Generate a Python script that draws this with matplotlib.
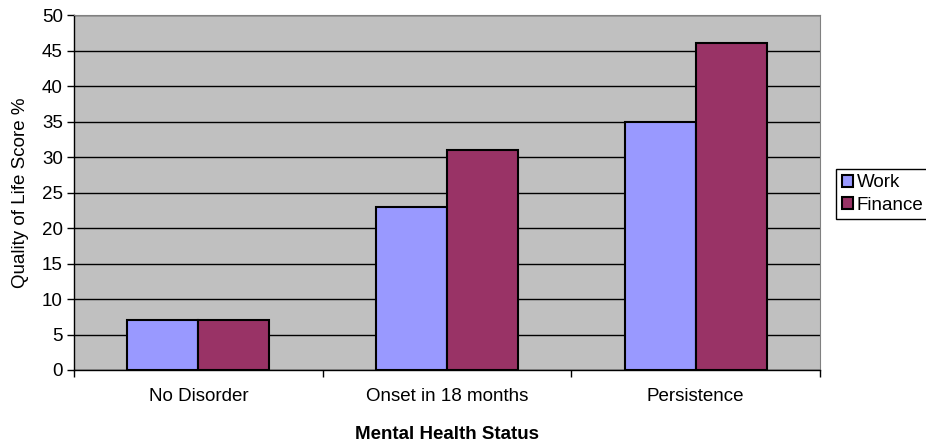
import matplotlib.pyplot as plt
import numpy as np

# Datos
categorias = ["No Disorder", "Onset in 18 months", "Persistence"]
work = [7, 23, 35]
finance = [7, 31, 46]
series = ["Work", "Finance"]

plt.rcParams['font.family'] = ['Liberation Sans', 'DejaVu Sans']

fig = plt.figure(figsize=(9.26, 4.45), dpi=100)
ax = fig.add_axes([74/926, 1 - 370/445, (820-74)/926, (370-15)/445])
ax.set_facecolor('#C0C0C0')

x = np.arange(len(categorias))
ancho = 0.285
ax.bar(x - ancho/2, work, ancho, color='#9999FF', edgecolor='black', linewidth=1.5, zorder=3, label=series[0])
ax.bar(x + ancho/2, finance, ancho, color='#993366', edgecolor='black', linewidth=1.5, zorder=3, label=series[1])

ax.set_xlim(-0.5, 2.5)
ax.set_ylim(0, 50)
ax.set_yticks(range(0, 51, 5))
ax.yaxis.grid(True, color='black', linewidth=1, zorder=1)

ax.set_xticks(x)
ax.set_xticklabels(categorias, fontsize=13.5)
ax.tick_params(axis='x', length=0, pad=13)
ax.set_xticks([-0.5, 0.5, 1.5, 2.5], minor=True)
ax.tick_params(axis='x', which='minor', length=5, width=1)
ax.tick_params(axis='y', labelsize=13.5, length=5, width=1, pad=3)

for s in ['top', 'right']:
    ax.spines[s].set_color('#808080')
ax.spines['left'].set_linewidth(1)
ax.spines['bottom'].set_linewidth(1)

ax.set_ylabel("Quality of Life Score %", fontsize=13.5, labelpad=9)
ax.set_xlabel("Mental Health Status", fontsize=13.5, fontweight='bold', labelpad=15)

leg = fig.legend(loc='center left', bbox_to_anchor=(836/926, 1 - 194/445), fontsize=13.5,
                 handlelength=0.6, handleheight=0.6, handletextpad=0.2, borderpad=0.3,
                 labelspacing=0.3, fancybox=False, framealpha=1, edgecolor='black', borderaxespad=0)
leg.get_frame().set_linewidth(1)

plt.savefig("out.png", dpi=100)
